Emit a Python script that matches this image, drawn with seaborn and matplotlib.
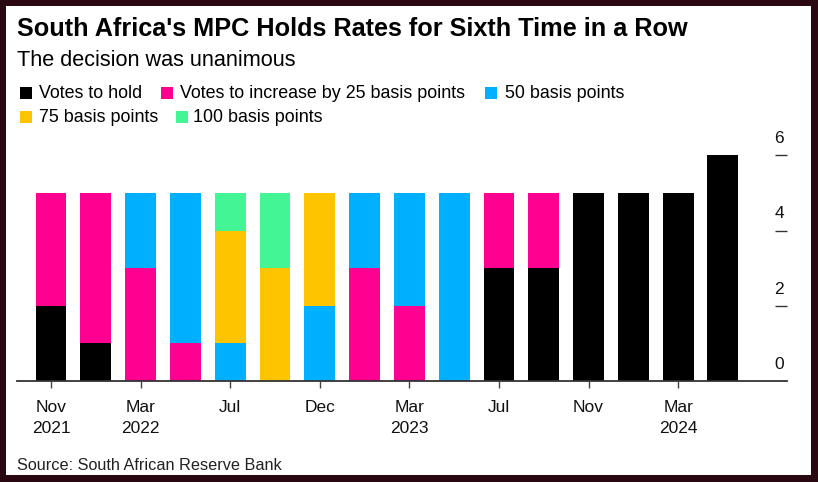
import matplotlib
matplotlib.use("Agg")
import matplotlib.pyplot as plt
import numpy as np
import pandas as pd
import seaborn as sns
from matplotlib.patches import Rectangle

# MPC meetings and the vote split at each
meetings = ["Nov 2021", "Jan 2022", "Mar 2022", "May 2022", "Jul 2022", "Sep 2022",
            "Nov 2022", "Jan 2023", "Mar 2023", "May 2023", "Jul 2023", "Sep 2023",
            "Nov 2023", "Jan 2024", "Mar 2024", "May 2024"]
hold = [2, 1, 0, 0, 0, 0, 0, 0, 0, 0, 3, 3, 5, 5, 5, 6]
bp25 = [3, 4, 3, 1, 0, 0, 0, 3, 2, 0, 2, 2, 0, 0, 0, 0]
bp50 = [0, 0, 2, 4, 1, 0, 2, 2, 3, 5, 0, 0, 0, 0, 0, 0]
bp75 = [0, 0, 0, 0, 3, 3, 3, 0, 0, 0, 0, 0, 0, 0, 0, 0]
bp100 = [0, 0, 0, 0, 1, 2, 0, 0, 0, 0, 0, 0, 0, 0, 0, 0]

series = ["Votes to hold", "Votes to increase by 25 basis points", "50 basis points",
          "75 basis points", "100 basis points"]
colors = ["#000000", "#ff0090", "#00b0ff", "#ffc400", "#44f595"]

tick_idx = [0, 2, 4, 6, 8, 10, 12, 14]
tick_labels = ["Nov\n2021", "Mar\n2022", "Jul", "Dec", "Mar\n2023", "Jul", "Nov", "Mar\n2024"]
y_ticks = [0, 2, 4, 6]

sns.set_theme(style="white")
plt.rcParams['font.family'] = ['Liberation Sans', 'DejaVu Sans']

W, H = 818, 482
fig = plt.figure(figsize=(W / 100, H / 100), dpi=100)
fig.patch.set_facecolor("#2a0812")
fig.patches.append(Rectangle((6 / W, 1 - 475 / H), 805 / W, 469 / H, transform=fig.transFigure,
                             facecolor="white", edgecolor="none", zorder=-10))

ax = fig.add_axes([17 / W, (H - 381) / H, 770 / W, 237 / H])
ax.set_facecolor("none")
ax.set_zorder(5)

df = pd.DataFrame({"meeting": meetings, series[0]: hold, series[1]: bp25,
                   series[2]: bp50, series[3]: bp75, series[4]: bp100})
cum = df[series].cumsum(axis=1)

# draw from the top of the stack down so each layer covers the one above it
for name, col in reversed(list(zip(series, colors))):
    sns.barplot(x=df["meeting"], y=cum[name], color=col, width=0.69, ax=ax,
                saturation=1, edgecolor="none", linewidth=0)

ax.set_xlim(-0.759, 16.43)
ax.set_ylim(0, 6.3)
ax.set_xlabel("")
ax.set_ylabel("")

for s in ["top", "left", "right"]:
    ax.spines[s].set_visible(False)
ax.spines["bottom"].set_color("#333333")
ax.spines["bottom"].set_linewidth(1.3)

ax.set_xticks(tick_idx)
ax.set_xticklabels(tick_labels, fontsize=12.5, color="#111111", linespacing=1.5)
ax.tick_params(axis="x", direction="out", length=5, width=1, color="#444444", pad=9,
               bottom=True)

ax.yaxis.tick_right()
ax.set_yticks([t for t in y_ticks if t > 0])
ax.set_yticklabels([])
ax.tick_params(axis="y", direction="in", length=9, width=1, color="#333333", right=True)
for t in y_ticks:
    ax.annotate(str(t), xy=(0.99, t), xycoords=("axes fraction", "data"),
                xytext=(0, 12), textcoords="offset points", ha="center", va="center",
                fontsize=12.5, color="#111111")

fig.text(17 / W, 1 - 28.5 / H, "South Africa's MPC Holds Rates for Sixth Time in a Row",
         fontsize=18.2, fontweight="bold", va="center", ha="left", color="black")
fig.text(17 / W, 1 - 61 / H, "The decision was unanimous", fontsize=15.6,
         va="center", ha="left", color="black")

# legend laid out in two flowing rows: (series index, square x, text x)
legend_rows = [[(0, 20, 39), (1, 161, 180), (2, 485, 505)], [(3, 20, 39), (4, 176, 193)]]
for row, y in zip(legend_rows, [93, 117]):
    for i, xs, xt in row:
        fig.patches.append(Rectangle((xs / W, 1 - (y + 6) / H), 12 / W, 12 / H,
                                     transform=fig.transFigure, facecolor=colors[i],
                                     edgecolor="none"))
        fig.text(xt / W, 1 - y / H, series[i], fontsize=12.9, va="center",
                 ha="left", color="black")

fig.text(17 / W, 1 - 465 / H, "Source: South African Reserve Bank", fontsize=11.7,
         va="center", ha="left", color="#222222")

fig.savefig("out.png", dpi=100, facecolor=fig.get_facecolor())
